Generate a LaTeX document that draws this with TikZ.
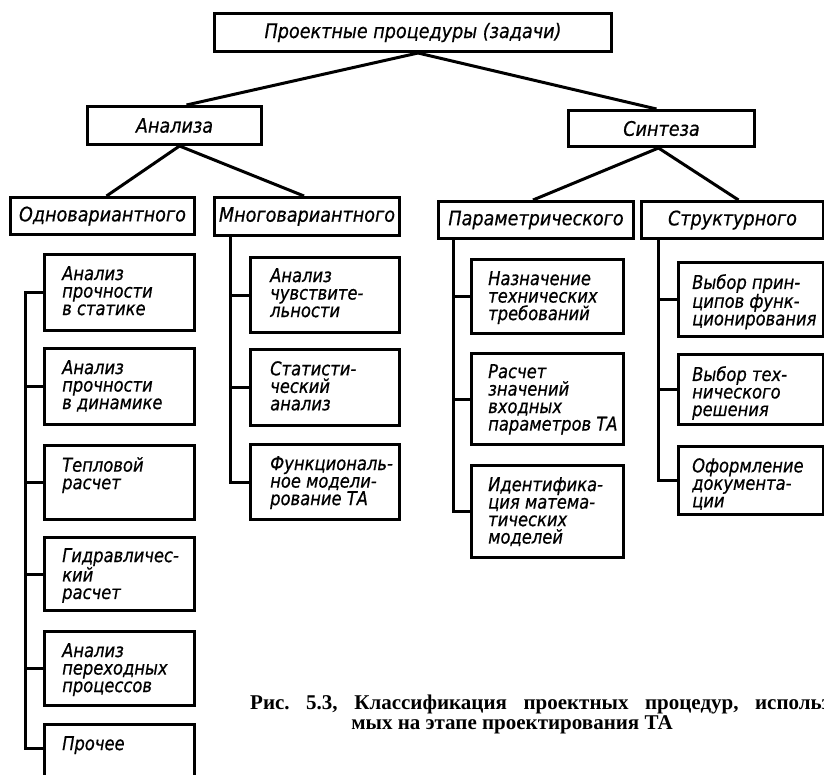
\documentclass[tikz,border=0pt]{standalone}
\usepackage{fontspec}
\setmainfont{Liberation Serif}
\newfontfamily\headfont[FakeStretch=0.88, FakeBold=0.6]{DejaVu Sans}
\newfontfamily\itemfont[FakeStretch=0.86, FakeBold=0.6]{DejaVu Sans}
\usetikzlibrary{calc}
\frenchspacing

\begin{document}
\begin{tikzpicture}[x=1pt,y=-1pt,
  frame/.style={draw, line width=3pt, rectangle, inner sep=0pt, anchor=north west},
  headtext/.style={font=\headfont\itshape\fontsize{20}{20}\selectfont, inner sep=0pt},
  itemtext/.style={font=\itemfont\itshape\fontsize{19}{17.5}\selectfont, align=left, inner sep=0pt, anchor=north west},
  link/.style={line width=3pt},
  captext/.style={font=\bfseries\fontsize{21}{21}\selectfont, inner sep=0pt}]

\useasboundingbox (0,0) rectangle (824,774);
\clip (0,0) rectangle (824,774);

% ---- header level ----
\node[frame, minimum width=397pt, minimum height=38pt] (top) at (213,12) {};
\node[headtext] (toptext) at (top.center) {Проектные процедуры (задачи)};

\node[frame, minimum width=174pt, minimum height=38pt] (an) at (86,105) {};
\node[headtext] (antext) at (an.center) {Анализа};
\node[frame, minimum width=186pt, minimum height=36pt] (sy) at (567,109) {};
\node[headtext] (sytext) at (sy.center) {Синтеза};

\node[frame, minimum width=184pt, minimum height=37pt] (od) at (9,196) {};
\node[headtext] (odtext) at (od.center) {Одновариантного};
\node[frame, minimum width=185pt, minimum height=38pt] (mv) at (213,196) {};
\node[headtext] (mvtext) at (mv.center) {Многовариантного};
\node[frame, minimum width=195pt, minimum height=37pt] (pa) at (437,200) {};
\node[headtext] (patext) at (pa.center) {Параметрического};
\node[frame, minimum width=182pt, minimum height=37pt] (st) at (640,200) {};
\node[headtext] (sttext) at (st.center) {Структурного};

% ---- tree links ----
\draw[link] ([xshift=5pt]top.south) -- ([xshift=12pt]an.north);
\draw[link] ([xshift=5pt]top.south) -- ([xshift=-5pt]sy.north);
\draw[link] ([xshift=5pt]an.south) -- ([xshift=4pt]od.north);
\draw[link] ([xshift=5pt]an.south) -- ([xshift=-3pt]mv.north);
\draw[link] ([xshift=-3pt]sy.south) -- ([xshift=-3pt]pa.north);
\draw[link] ([xshift=-3pt]sy.south) -- ([xshift=6pt]st.north);

% ---- single-variant analysis ----
\node[frame, minimum width=150pt, minimum height=76pt] (l1) at (43,253) {};
\node[itemtext] (l1t) at (62,266) {Анализ\\прочности\\в статике};
\node[frame, minimum width=150pt, minimum height=76pt] (l2) at (43,347) {};
\node[itemtext] (l2t) at (62,360) {Анализ\\прочности\\в динамике};
\node[frame, minimum width=150pt, minimum height=74pt] (l3) at (43,444) {};
\node[itemtext] (l3t) at (62,457) {Тепловой\\расчет};
\node[frame, minimum width=150pt, minimum height=73pt] (l4) at (43,536) {};
\node[itemtext] (l4t) at (62,548) {Гидравличес-\\кий\\расчет};
\node[frame, minimum width=150pt, minimum height=74pt] (l5) at (43,630) {};
\node[itemtext] (l5t) at (62,643) {Анализ\\переходных\\процессов};
\node[frame, minimum width=150pt, minimum height=74pt] (l6) at (43,723) {};
\node[itemtext] (l6t) at (62,736) {Прочее};

\coordinate (ltr) at (25,0);
\draw[link] (l1.west) -- (l1.west -| ltr) |- ([yshift=13pt]l6.west);
\foreach \b in {l2,l3,l4,l5} \draw[link] (\b.west) -- (\b.west -| ltr);

% ---- multi-variant analysis ----
\node[frame, minimum width=149pt, minimum height=75pt] (m1) at (249,256) {};
\node[itemtext] (m1t) at (270,268) {Анализ\\чувствите-\\льности};
\node[frame, minimum width=149pt, minimum height=76pt] (m2) at (249,348) {};
\node[itemtext] (m2t) at (270,361) {Статисти-\\ческий\\анализ};
\node[frame, minimum width=149pt, minimum height=75pt] (m3) at (249,443) {};
\node[itemtext] (m3t) at (270,456) {Функциональ-\\ное модели-\\рование ТА};

\coordinate (mtr) at (230,0);
\draw[link] (mv.south -| mtr) |- (m3.west);
\foreach \b in {m1,m2} \draw[link] (\b.west) -- (\b.west -| mtr);

% ---- parametric synthesis ----
\node[frame, minimum width=152pt, minimum height=74pt] (p1) at (470,258) {};
\node[itemtext] (p1t) at (488,271) {Назначение\\технических\\требований};
\node[frame, minimum width=152pt, minimum height=91pt] (p2) at (470,352) {};
\node[itemtext] (p2t) at (488,364) {Расчет\\значений\\входных\\параметров ТА};
\node[frame, minimum width=152pt, minimum height=92pt] (p3) at (470,464) {};
\node[itemtext] (p3t) at (488,477) {Идентифика-\\ция матема-\\тических\\моделей};

\coordinate (ptr) at (453,0);
\draw[link] (pa.south -| ptr) |- (p3.west);
\foreach \b in {p1,p2} \draw[link] (\b.west) -- (\b.west -| ptr);

% ---- structural synthesis ----
\node[frame, minimum width=145pt, minimum height=74pt] (s1) at (677,261) {};
\node[itemtext] (s1t) at (692,274) {Выбор прин-\\ципов функ-\\ционирования};
\node[frame, minimum width=145pt, minimum height=70pt] (s2) at (677,353) {};
\node[itemtext] (s2t) at (692,366) {Выбор тех-\\нического\\решения};
\node[frame, minimum width=145pt, minimum height=68pt] (s3) at (677,445) {};
\node[itemtext] (s3t) at (692,458) {Оформление\\документа-\\ции};

\coordinate (str) at (658,0);
\draw[link] (st.south -| str) |- (s3.west);
\foreach \b in {s1,s2} \draw[link] (\b.west) -- (\b.west -| str);

% ---- caption ----
\node[captext, anchor=base west] (cap1) at (250,709)
  {\makebox[580pt][s]{Рис. 5.3, Классификация проектных процедур, использ}};
\node[captext, anchor=base] (cap2) at (512,729) {мых на этапе проектирования ТА};

\end{tikzpicture}
\end{document}
